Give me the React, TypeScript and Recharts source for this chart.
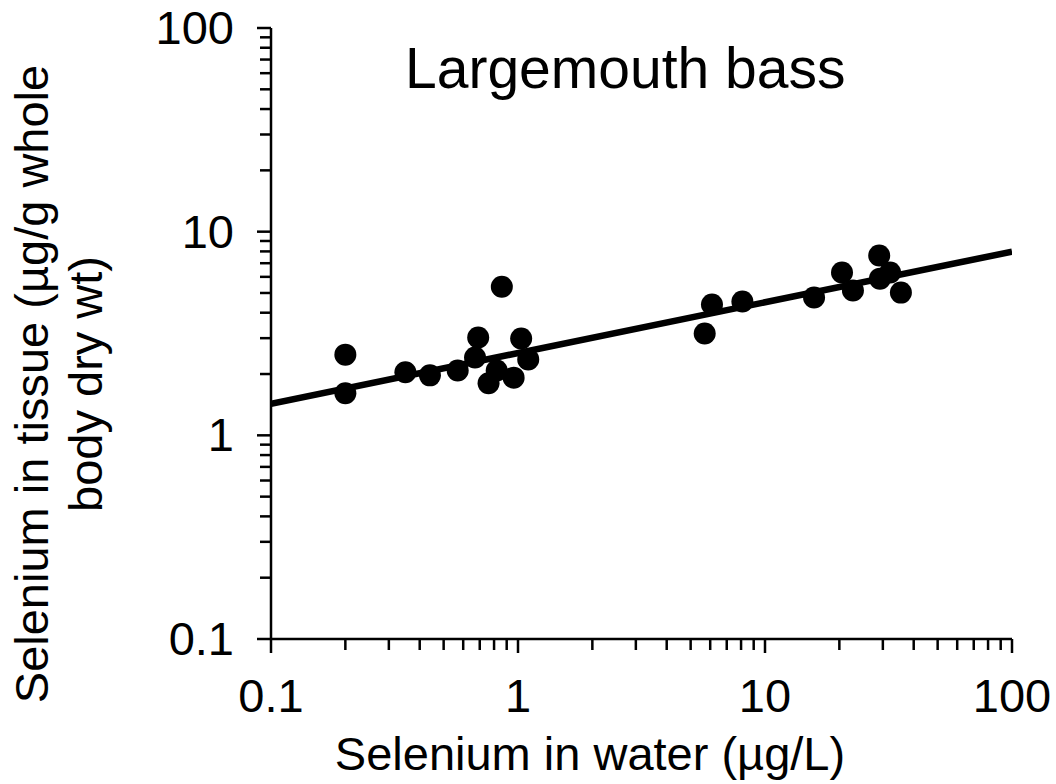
import React from "react";
import { ScatterChart, Scatter, XAxis, YAxis } from "recharts";

const waterSe = [0.2, 0.2, 0.35, 0.44, 0.57, 0.69, 0.67, 0.86, 1.03, 1.1, 0.76, 0.82, 0.96, 5.7, 6.1, 8.1, 15.8, 20.5, 22.7, 29.0, 29.2, 32.1, 35.5];
const tissueSe = [2.49, 1.61, 2.04, 1.97, 2.08, 3.02, 2.41, 5.37, 2.99, 2.36, 1.8, 2.08, 1.92, 3.16, 4.39, 4.54, 4.75, 6.3, 5.14, 7.63, 5.88, 6.3, 5.02];
const fitWater = [0.1, 100];
const fitTissue = [1.43, 7.98];
const majorTicks = [0.1, 1, 10, 100];
const tickLabels = ["0.1", "1", "10", "100"];
const minorMultipliers = [2, 3, 4, 5, 6, 7, 8, 9];

const allTicks: number[] = [];
majorTicks.forEach((m, i) => {
  allTicks.push(m);
  if (i < majorTicks.length - 1) minorMultipliers.forEach((k) => allTicks.push(+(m * k).toPrecision(3)));
});

const points = waterSe.map((x, i) => ({ x, y: tissueSe[i] }));
const fitLine = fitWater.map((x, i) => ({ x, y: fitTissue[i] }));

const FONT = "'Liberation Sans', Arial, sans-serif";

const labelFor = (v: number) => {
  const idx = majorTicks.findIndex((m) => Math.abs(m - v) < 1e-9);
  return idx >= 0 ? tickLabels[idx] : null;
};

const XTick = (props: any) => {
  const { x, y, payload } = props;
  const lbl = labelFor(payload.value);
  return (
    <g>
      <line x1={x} x2={x} y1={y} y2={y + (lbl ? 14 : 11)} stroke="#000" strokeWidth={2.5} />
      {lbl && (
        <text x={x} y={y + 73} textAnchor="middle" fontSize={47} fontFamily={FONT} fill="#000">
          {lbl}
        </text>
      )}
    </g>
  );
};

const YTick = (props: any) => {
  const { x, y, payload } = props;
  const lbl = labelFor(payload.value);
  return (
    <g>
      <line x1={x} x2={x - (lbl ? 14 : 11)} y1={y} y2={y} stroke="#000" strokeWidth={2.5} />
      {lbl && (
        <text x={x - 37} y={y + 16} textAnchor="end" fontSize={47} fontFamily={FONT} fill="#000">
          {lbl}
        </text>
      )}
    </g>
  );
};

const Dot = (props: any) => {
  const { cx, cy } = props;
  return <circle cx={cx} cy={cy} r={11} fill="#000" />;
};

export default function App() {
  return (
    <div style={{ position: "absolute", left: 0, top: 0, width: 1056, height: 784, background: "#fff" }}>
      <ScatterChart width={1056} height={784} margin={{ top: 28, right: 44, left: 0, bottom: 0 }}>
        <XAxis
          type="number"
          dataKey="x"
          scale="log"
          domain={[0.1, 100]}
          ticks={allTicks}
          interval={0}
          allowDataOverflow
          height={145}
          tickSize={0}
          tickMargin={0}
          tickLine={false}
          tick={<XTick />}
          axisLine={{ stroke: "#000", strokeWidth: 2.5 }}
        />
        <YAxis
          type="number"
          dataKey="y"
          scale="log"
          domain={[0.1, 100]}
          ticks={allTicks}
          interval={0}
          allowDataOverflow
          width={271}
          tickSize={0}
          tickMargin={0}
          tickLine={false}
          tick={<YTick />}
          axisLine={{ stroke: "#000", strokeWidth: 2.5 }}
        />
        <Scatter data={points} fill="#000" shape={<Dot />} isAnimationActive={false} />
        <Scatter
          data={fitLine}
          line={{ stroke: "#000", strokeWidth: 6.5 }}
          lineType="joint"
          shape={() => <g />}
          isAnimationActive={false}
        />
      </ScatterChart>
      <svg width={1056} height={784} style={{ position: "absolute", left: 0, top: 0, pointerEvents: "none" }}>
        <text x={405} y={88} fontSize={57} fontFamily={FONT} fill="#000">
          Largemouth bass
        </text>
        <text x={590} y={770} textAnchor="middle" fontSize={47} fontFamily={FONT} fill="#000">
          Selenium in water (µg/L)
        </text>
        <text x={48} y={384} transform="rotate(-90, 48, 384)" textAnchor="middle" fontSize={47} fontFamily={FONT} fill="#000">
          Selenium in tissue (µg/g whole
        </text>
        <text x={102} y={384} transform="rotate(-90, 102, 384)" textAnchor="middle" fontSize={47} fontFamily={FONT} fill="#000">
          body dry wt)
        </text>
      </svg>
    </div>
  );
}
